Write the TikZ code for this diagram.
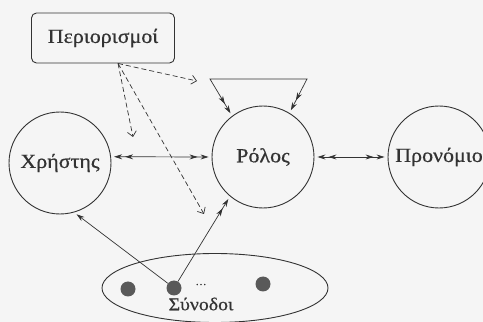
\documentclass[tikz,border=0pt]{standalone}
\usepackage{fontspec}
\setmainfont[FakeStretch=1.1, FakeBold=0.6]{Liberation Serif}
\usepackage{tikz}
\usetikzlibrary{shapes.geometric, arrows.meta, positioning}
\definecolor{ink}{HTML}{333333}
\tikzstyle{entity} = [circle, draw=ink, line width=0.9pt, minimum size=102pt, inner sep=0pt, text=ink, font=\fontsize{20}{24}\selectfont]
\tikzstyle{limits} = [rectangle, rounded corners=5pt, draw=ink, line width=0.9pt, minimum width=143pt, minimum height=50pt, text=ink, font=\fontsize{20}{24}\selectfont]
\tikzstyle{session} = [circle, fill=black!65, inner sep=0pt, minimum size=15pt]
\tikzstyle{arrow} = [line width=0.7pt, draw=ink, ->, >={Stealth[length=8pt,width=5pt,sep=3pt]}]
\tikzstyle{hint} = [line width=0.7pt, draw=ink, dash pattern=on 5pt off 3pt, -{Straight Barb[length=5pt,width=9pt]}]

\begin{document}
\begin{tikzpicture}[x=1pt, y=1pt]
  \useasboundingbox[fill=black!4] (0,0) rectangle (483,322);

  \node[limits] (perio) at (103,284) {Περιορισμοί};
  \node[entity] (xrist) at (60,159) {Χρήστης};
  \node[entity] (rolos) at (263,165) {Ρόλος};
  \node[entity] (pronom) at (439,165) {Προνόμιο};

  % synodoi
  \node[ellipse, draw=ink, line width=0.9pt, minimum width=226pt, minimum height=69pt] (synod) at (215,34) {};
  \node[session] (s1) at (128,33) {};
  \node[session] (s2) at (174,34) {};
  \node[session] (s3) at (263,38) {};
  \node[anchor=base, text=ink, font=\normalsize] (dots) at (201,37) {\dots};
  \node[text=ink, font=\fontsize{18}{21}\selectfont] (synlbl) at (201,18) {Σύνοδοι};

  \coordinate (c1) at (197,241);
  \coordinate (c2) at (133,185);
  \coordinate (c3) at (204,108);
  \coordinate (loopl) at (210,243);
  \coordinate (loopr) at (307,243);

  \draw[arrow, <<->>] (xrist.7) -- (rolos.west);
  \draw[arrow, <<->>] (rolos.east) -- (pronom.west);
  \draw[arrow, <<->>] (rolos.127) -- (loopl) -- (loopr) -- (rolos.59);
  \draw[arrow] (s2) -- (xrist.286);
  \draw[arrow, ->>] (s2) -- (rolos.230);

  \draw[hint] ([xshift=15pt]perio.south) -- (c1);
  \draw[hint] ([xshift=15pt]perio.south) -- (c2);
  \draw[hint] ([xshift=15pt]perio.south) -- (c3);
\end{tikzpicture}
\end{document}
